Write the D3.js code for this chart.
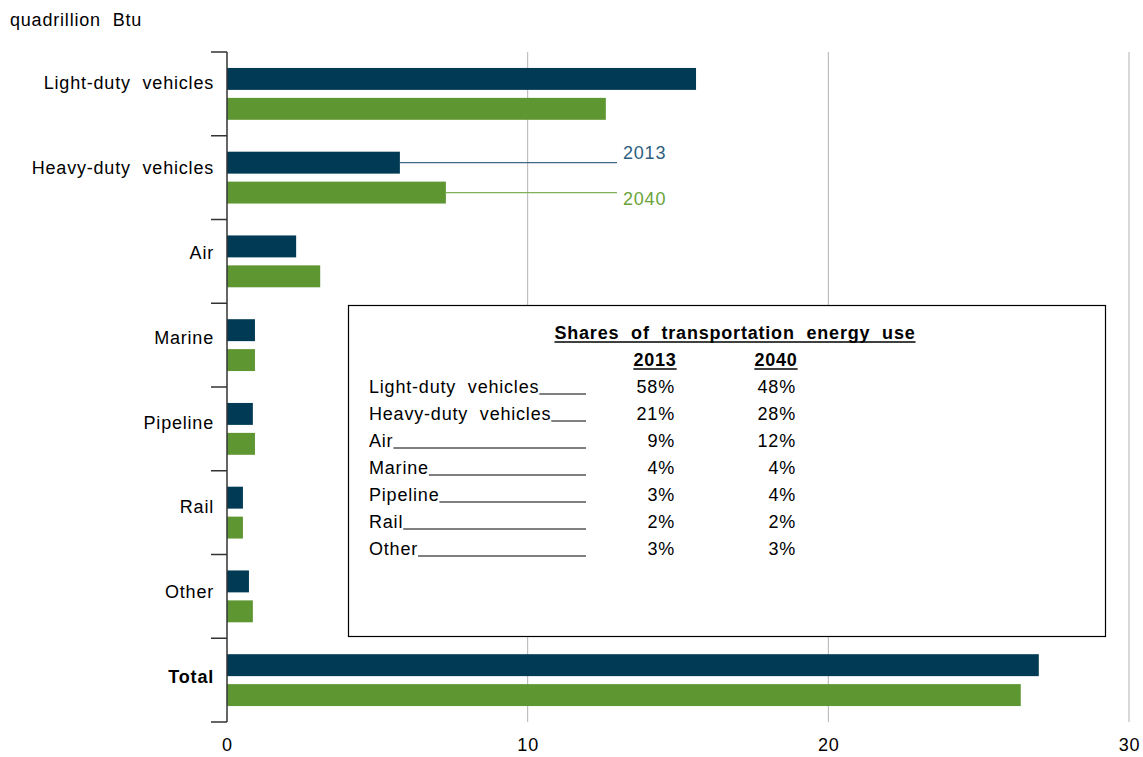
<!DOCTYPE html>
<html>
<head>
<meta charset="utf-8">
<script src="https://cdn.jsdelivr.net/npm/d3@7"></script>
<style>
  body { margin: 0; background: #fff; }
  text { font-family: "Liberation Sans", Arial, sans-serif; letter-spacing: 0.8px; word-spacing: 6px; }
</style>
</head>
<body>
<div id="chart"></div>
<script>
// data
const categories = ["Light-duty vehicles", "Heavy-duty vehicles", "Air", "Marine", "Pipeline", "Rail", "Other", "Total"];
const series = ["2013", "2040"];
const values2013 = [15.6, 5.75, 2.3, 0.93, 0.86, 0.53, 0.73, 27.0];
const values2040 = [12.6, 7.28, 3.1, 0.93, 0.93, 0.53, 0.86, 26.4];
const xTicks = [0, 10, 20, 30];

const shareLabels = ["Light-duty vehicles", "Heavy-duty vehicles", "Air", "Marine", "Pipeline", "Rail", "Other"];
const shares2013 = ["58%", "21%", "9%", "4%", "3%", "2%", "3%"];
const shares2040 = ["48%", "28%", "12%", "4%", "4%", "2%", "3%"];

const colors = { "2013": "#003a54", "2040": "#5e9732" };
const lineColors = { "2013": "#3d6a86", "2040": "#80b058" };

const W = 1143, H = 757;
const margin = { top: 52, right: 14, bottom: 35, left: 227 };
const fs = 18;

const svg = d3.select("#chart").append("svg")
    .attr("width", W)
    .attr("height", H);

const x = d3.scaleLinear().domain([0, 30]).range([margin.left, 1129]);
const y = d3.scaleBand().domain(categories).range([margin.top, H - margin.bottom]);
const ySub = d3.scaleBand().domain(series).range([0, y.bandwidth()])
    .paddingInner(0.267).paddingOuter(0.533);

// vertical gridlines
svg.append("g")
    .selectAll("line")
    .data(xTicks.filter(d => d > 0))
    .join("line")
    .attr("x1", d => x(d)).attr("x2", d => x(d))
    .attr("y1", margin.top).attr("y2", H - margin.bottom)
    .attr("stroke", "#b3b3b3")
    .attr("stroke-width", 1);

// bottom tick labels
const xAxis = svg.append("g")
    .attr("transform", `translate(0,${H - margin.bottom})`)
    .call(d3.axisBottom(x).tickValues(xTicks).tickSize(0).tickPadding(16));
xAxis.select(".domain").remove();
xAxis.selectAll("text")
    .attr("font-size", fs)
    .attr("fill", "#000")
    .style("font-family", "'Liberation Sans', Arial, sans-serif");

// bars
const rows = categories.map((c, i) => ({ cat: c, "2013": values2013[i], "2040": values2040[i] }));
const groups = svg.append("g")
    .selectAll("g")
    .data(rows)
    .join("g")
    .attr("transform", d => `translate(0,${y(d.cat)})`);

groups.selectAll("rect")
    .data(d => series.map(s => ({ s, v: d[s] })))
    .join("rect")
    .attr("x", x(0))
    .attr("y", d => ySub(d.s))
    .attr("width", d => x(d.v) - x(0))
    .attr("height", ySub.bandwidth())
    .attr("fill", d => colors[d.s]);

// left axis line and ticks at band edges
svg.append("line")
    .attr("x1", x(0)).attr("x2", x(0))
    .attr("y1", margin.top).attr("y2", H - margin.bottom)
    .attr("stroke", "#333").attr("stroke-width", 1.5);

const edges = categories.map(c => y(c)).concat([H - margin.bottom]);
svg.append("g")
    .selectAll("line")
    .data(edges)
    .join("line")
    .attr("x1", x(0) - 16).attr("x2", x(0))
    .attr("y1", d => d).attr("y2", d => d)
    .attr("stroke", "#333").attr("stroke-width", 1.5);

// category labels
svg.append("g")
    .selectAll("text")
    .data(categories)
    .join("text")
    .attr("x", x(0) - 13)
    .attr("y", (d, i) => y(d) + y.bandwidth() / 2 - 11 + i * 1.1)
    .attr("dy", "0.35em")
    .attr("text-anchor", "end")
    .attr("font-size", fs)
    .attr("font-weight", d => d === "Total" ? "bold" : "normal")
    .attr("fill", "#000")
    .text(d => d);

// unit label
svg.append("text")
    .attr("x", 10).attr("y", 26)
    .attr("font-size", fs)
    .attr("fill", "#000")
    .text("quadrillion Btu");

// series call-outs from heavy-duty bars
const hd = rows[1];
const calloutEnd = 617;
series.forEach(s => {
    const yc = y(hd.cat) + ySub(s) + ySub.bandwidth() / 2;
    svg.append("line")
        .attr("x1", x(hd[s])).attr("x2", calloutEnd)
        .attr("y1", yc).attr("y2", yc)
        .attr("stroke", lineColors[s]).attr("stroke-width", 1.2);
    svg.append("text")
        .attr("x", calloutEnd + 6)
        .attr("y", yc + (s === "2013" ? -10 : 6))
        .attr("dy", "0.35em")
        .attr("font-size", fs)
        .attr("fill", s === "2013" ? "#2e5f80" : "#6aa33a")
        .text(s);
});

// inset table
const box = { x: 348.5, y: 305.5, w: 757, h: 331 };
svg.append("rect")
    .attr("x", box.x).attr("y", box.y)
    .attr("width", box.w).attr("height", box.h)
    .attr("fill", "#fff")
    .attr("stroke", "#000").attr("stroke-width", 1.2);

function underlined(txt, cx, cy) {
    const t = svg.append("text")
        .attr("x", cx).attr("y", cy)
        .attr("text-anchor", "middle")
        .attr("font-size", fs)
        .attr("font-weight", "bold")
        .attr("fill", "#000")
        .text(txt);
    const bb = t.node().getBBox();
    svg.append("line")
        .attr("x1", bb.x).attr("x2", bb.x + bb.width)
        .attr("y1", cy + 3).attr("y2", cy + 3)
        .attr("stroke", "#000").attr("stroke-width", 1.5);
}

underlined("Shares of transportation energy use", 735, 339);
underlined("2013", 655, 366);
underlined("2040", 776, 366);

const rowStart = 393, rowStep = 27, lineEnd = 586;
shareLabels.forEach((lab, i) => {
    const yy = rowStart + i * rowStep;
    const t = svg.append("text")
        .attr("x", 369).attr("y", yy)
        .attr("font-size", fs)
        .attr("fill", "#000")
        .text(lab);
    const bb = t.node().getBBox();
    svg.append("line")
        .attr("x1", bb.x + bb.width).attr("x2", lineEnd)
        .attr("y1", yy + 1).attr("y2", yy + 1)
        .attr("stroke", "#000").attr("stroke-width", 1);
    svg.append("text")
        .attr("x", 675).attr("y", yy)
        .attr("text-anchor", "end")
        .attr("font-size", fs)
        .attr("fill", "#000")
        .text(shares2013[i]);
    svg.append("text")
        .attr("x", 796).attr("y", yy)
        .attr("text-anchor", "end")
        .attr("font-size", fs)
        .attr("fill", "#000")
        .text(shares2040[i]);
});
</script>
</body>
</html>
